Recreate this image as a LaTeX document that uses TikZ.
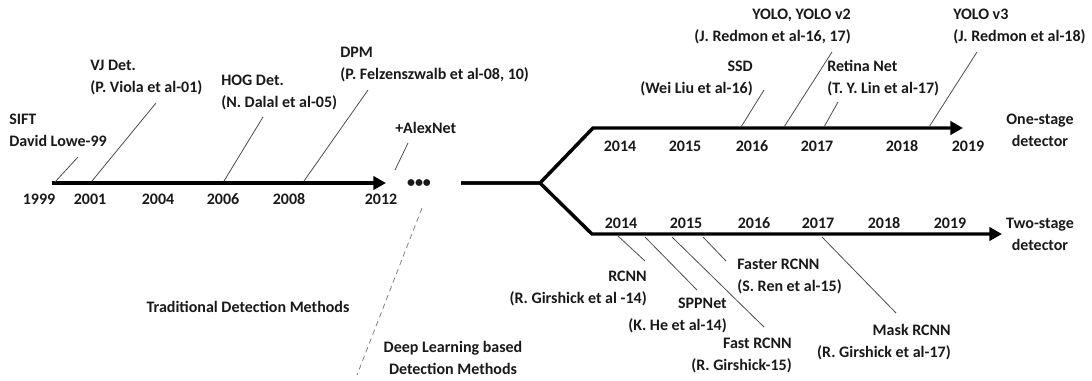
\documentclass[tikz,border=0pt]{standalone}
\usepackage{fontspec}
\setmainfont{Carlito}
\usetikzlibrary{arrows.meta}

\begin{document}
\begin{tikzpicture}[
  x=0.75pt,
  y=-0.75pt,
  line join=miter,
  >={Triangle[length=9.5pt,width=10pt]},
  timeline/.style={line width=2.6pt},
  pointer/.style={black!70, line width=0.6pt},
  every node/.style={font=\fontsize{12}{16.5}\selectfont\bfseries, inner sep=0pt, text=black!90}
]
\useasboundingbox (0,0) rectangle (1092,380);

% corners of the time lines
\coordinate (start) at (52,183);
\coordinate (end12) at (386,183);
\coordinate (gap)   at (461,183);
\coordinate (fork)  at (540,183);
\coordinate (upbend)  at (593,128);
\coordinate (upend)   at (963,128);
\coordinate (lowbend) at (592,234);
\coordinate (lowend)  at (1002,234);

\draw [timeline,->] (start) -- (end12);
\draw [timeline,->] (gap) -- (fork) -- (upbend) -- (upend);
\draw [timeline,->] (gap) -- (fork) -- (lowbend) -- (lowend);

\node (dots) at (419,184) {•••};

% years
\foreach \yr/\x in {1999/39,2001/90,2004/158,2006/223,2008/289,2012/381}
  \node (y\yr) at (\x,199) {\yr};
\foreach \yr/\x in {2014/620,2015/685,2016/752,2017/817,2018/902,2019/968}
  \node (u\yr) at (\x,146) {\yr};
\foreach \yr/\x in {2014/621,2015/686,2016/754,2017/818,2018/884,2019/950}
  \node (l\yr) at (\x,223) {\yr};

% detectors, labels set from the left
\begin{scope}[every node/.append style={anchor=west, align=left}]
  \node (sift) at (9,130)   {SIFT\\David Lowe-99};
  \node (vj)   at (90,78)   {VJ Det.\\(P. Viola et al-01)};
  \node (hog)  at (221,92)  {HOG Det.\\(N. Dalal et al-05)};
  \node (dpm)  at (340,65)  {DPM\\(P. Felzenszwalb et al-08, 10)};
  \node (alex) at (395,128) {+AlexNet};
  \node (retina) at (827,78) {Retina Net\\(T. Y. Lin et al-17)};
  \node (yolothree) at (953,26) {YOLO v3\\(J. Redmon et al-18)};
  \node (faster) at (737,276) {Faster RCNN\\(S. Ren et al-15)};
\end{scope}

% detectors, labels set from the right
\begin{scope}[every node/.append style={anchor=east, align=right}]
  \node (ssd)  at (753,78)  {SSD\\(Wei Liu et al-16)};
  \node (yolo) at (851,26)  {YOLO, YOLO v2\\(J. Redmon et al-16, 17)};
  \node (rcnn) at (647,288) {RCNN\\(R. Girshick et al -14)};
  \node (spp)  at (727,315) {SPPNet\\(K. He et al-14)};
  \node (fast) at (792,355) {Fast RCNN\\(R. Girshick-15)};
  \node (mask) at (951,342) {Mask RCNN\\(R. Girshick et al-17)};
\end{scope}

\begin{scope}[every node/.append style={align=center}]
  \node (trad) at (248,307) {Traditional Detection Methods};
  \node (deep) at (453,358) {Deep Learning based\\Detection Methods};
  \node (one)  at (1040,130) {One-stage\\detector};
  \node (two)  at (1040,234) {Two-stage\\detector};
\end{scope}

% pointers from the time lines to the labels
\foreach \n/\ax/\ay/\bx/\by in {
    sift/55/182/78/157, vj/92/181/156/103, hog/224/181/263/117,
    dpm/304/181/368/90, alex/395/170/408/143,
    ssd/741/127/764/90, yolo/784/127/832/52, retina/824/127/838/102,
    yolothree/929/127/977/52,
    rcnn/618/236/645/261, spp/645/237/697/290, fast/672/237/764/327,
    faster/703/237/726/261, mask/822/237/896/313}{
  \coordinate (\n-a) at (\ax,\ay);
  \coordinate (\n-b) at (\bx,\by);
  \draw [pointer] (\n-a) -- (\n-b);
}

\coordinate (split-a) at (422,208);
\coordinate (split-b) at (357,375);
\draw [pointer, black!50, dash pattern=on 4pt off 3pt] (split-a) -- (split-b);

\end{tikzpicture}
\end{document}
